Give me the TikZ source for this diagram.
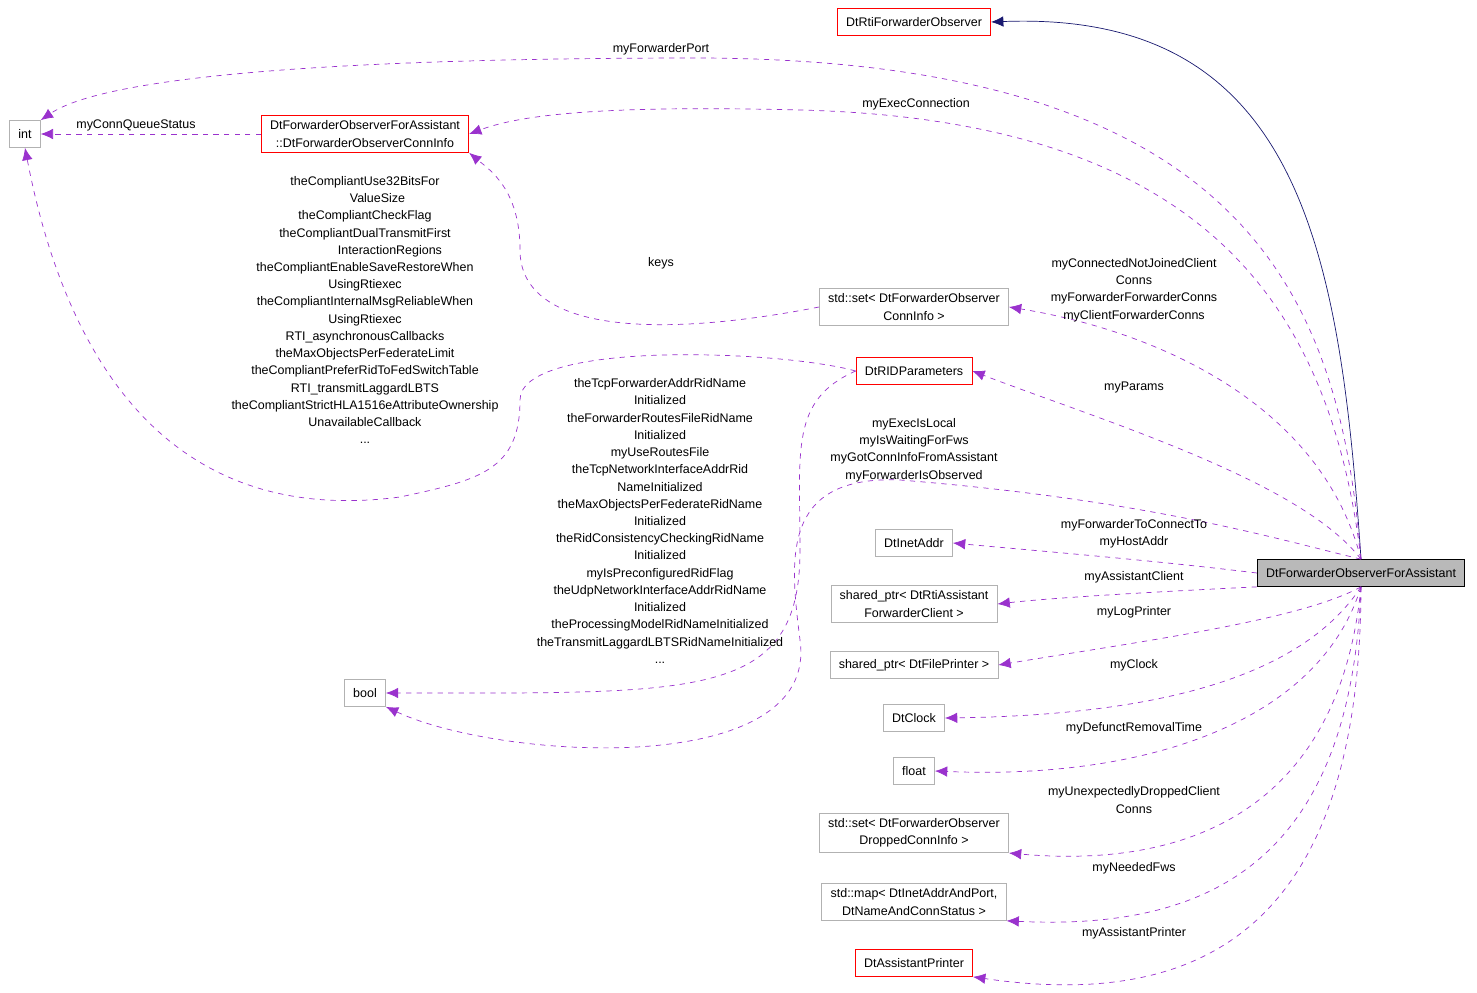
\documentclass[tikz,border=0pt]{standalone}
\usepackage{fontspec}
\setmainfont{Liberation Sans}
\usetikzlibrary{arrows.meta,positioning}
\definecolor{usecol}{RGB}{154,50,205}
\definecolor{inhcol}{RGB}{25,25,112}
\tikzset{
  cls/.style = {draw=gray!60, fill=white, align=center, inner xsep=5pt, inner ysep=3pt, minimum height=27*0.02cm},
  cls_red/.style = {cls, draw=red},
  cls_main/.style = {cls, draw=black, fill=gray!55},
  uses/.style = {draw=usecol, dashed, -{Latex[length=7pt,width=6pt]}},
  inherits/.style = {draw=inhcol, -{Latex[length=7pt,width=6pt]}},
  lbl/.style = {align=center, inner sep=0pt}
}
\begin{document}
\begin{tikzpicture}[x=0.02cm, y=-0.02cm,
            every node/.style={font=\fontsize{7.1}{9.8}\selectfont}
            ]
        \useasboundingbox (0,0) rectangle (1477,993);

        % Classes
        \node[cls_main] at (1361,573) (main) {DtForwarderObserverForAssistant};
        \node[cls_red] at (914,22) (rti) {DtRtiForwarderObserver};
        \node[cls] at (25,134) (int) {int};
        \node[cls_red] at (365,134) (conn_info) {DtForwarderObserverForAssistant\\::DtForwarderObserverConnInfo};
        \node[cls] at (914,307) (conn_set) {std::set< DtForwarderObserver\\ConnInfo >};
        \node[cls_red] at (914,371) (rid) {DtRIDParameters};
        \node[cls] at (914,543) (inet) {DtInetAddr};
        \node[cls] at (914,604) (client) {shared\_ptr< DtRtiAssistant\\ForwarderClient >};
        \node[cls] at (914,665) (printer) {shared\_ptr< DtFilePrinter >};
        \node[cls] at (914,718) (clock) {DtClock};
        \node[cls] at (914,771) (float) {float};
        \node[cls] at (914,833) (dropped_set) {std::set< DtForwarderObserver\\DroppedConnInfo >};
        \node[cls] at (914,902) (fws_map) {std::map< DtInetAddrAndPort,\\DtNameAndConnStatus >};
        \node[cls_red] at (914,963) (asst_printer) {DtAssistantPrinter};
        \node[cls] at (365,693) (bool) {bool};

        % Inheritance
        \draw[inherits] (main.north) .. controls (1340,250) and (1300,10) .. (rti.east);

        % Usage
        \draw[uses] (main.north) .. controls (1340,300) and (1250,60) .. (700,58)
            .. controls (300,58) and (100,80) .. (int.north east);
        \draw[uses] (main.north) .. controls (1330,300) and (1200,120) .. (800,110)
            .. controls (600,105) and (520,115) .. (conn_info.east);
        \draw[uses] (conn_info.west) -- (int.east);
        \draw[uses] (conn_set.west) .. controls (650,340) and (520,330) .. (520,250)
            .. controls (520,190) and (490,170) .. (conn_info.south east);
        \draw[uses] (rid.west) .. controls (780,350) and (520,340) .. (520,400)
            .. controls (520,470) and (480,480) .. (400,497)
            .. controls (150,530) and (60,330) .. (int.south);
        \draw[uses] (main.north) .. controls (1320,400) and (1150,330) .. (conn_set.east);
        \draw[uses] (main.north) .. controls (1300,480) and (1100,420) .. (rid.east);
        \draw[uses] (rid.west) .. controls (790,400) and (800,450) .. (800,550)
            .. controls (800,700) and (700,693) .. (bool.east);
        \draw[uses] (main.north) .. controls (1280,540) and (1150,500) .. (900,480)
            .. controls (780,475) and (790,560) .. (800,640)
            .. controls (820,780) and (500,760) .. (bool.south east);
        \draw[uses] (main.west) .. controls (1150,560) and (1050,552) .. (inet.east);
        \draw[uses] (main.south west) .. controls (1150,592) and (1050,598) .. (client.east);
        \draw[uses] (main.south) .. controls (1300,620) and (1150,640) .. (printer.east);
        \draw[uses] (main.south) .. controls (1300,680) and (1150,715) .. (clock.east);
        \draw[uses] (main.south) .. controls (1320,720) and (1150,780) .. (float.east);
        \draw[uses] (main.south) .. controls (1340,800) and (1200,870) .. (dropped_set.south east);
        \draw[uses] (main.south) .. controls (1350,870) and (1200,930) .. (fws_map.south east);
        \draw[uses] (main.south) .. controls (1360,930) and (1200,1010) .. (asst_printer.south east);

        % Labels
        \node[lbl] at (661,49) (l_port) {myForwarderPort};
        \node[lbl] at (916,104) (l_exec) {myExecConnection};
        \node[lbl] at (136,125) (l_queue) {myConnQueueStatus};
        \node[lbl] at (661,263) (l_keys) {keys};
        \node[lbl] at (365,310) (l_compliant) {theCompliantUse32BitsFor\\\hspace*{2em}ValueSize\\theCompliantCheckFlag\\theCompliantDualTransmitFirst\\\hspace*{4em}InteractionRegions\\theCompliantEnableSaveRestoreWhen\\UsingRtiexec\\theCompliantInternalMsgReliableWhen\\UsingRtiexec\\RTI\_asynchronousCallbacks\\theMaxObjectsPerFederateLimit\\theCompliantPreferRidToFedSwitchTable\\RTI\_transmitLaggardLBTS\\theCompliantStrictHLA1516eAttributeOwnership\\UnavailableCallback\\...};
        \node[lbl] at (1134,290) (l_connected) {myConnectedNotJoinedClient\\Conns\\myForwarderForwarderConns\\myClientForwarderConns};
        \node[lbl] at (1134,388) (l_params) {myParams};
        \node[lbl] at (660,521) (l_tcp) {theTcpForwarderAddrRidName\\Initialized\\theForwarderRoutesFileRidName\\Initialized\\myUseRoutesFile\\theTcpNetworkInterfaceAddrRid\\NameInitialized\\theMaxObjectsPerFederateRidName\\Initialized\\theRidConsistencyCheckingRidName\\Initialized\\myIsPreconfiguredRidFlag\\theUdpNetworkInterfaceAddrRidName\\Initialized\\theProcessingModelRidNameInitialized\\theTransmitLaggardLBTSRidNameInitialized\\...};
        \node[lbl] at (914,450) (l_local) {myExecIsLocal\\myIsWaitingForFws\\myGotConnInfoFromAssistant\\myForwarderIsObserved};
        \node[lbl] at (1134,534) (l_host) {myForwarderToConnectTo\\myHostAddr};
        \node[lbl] at (1134,577) (l_client) {myAssistantClient};
        \node[lbl] at (1134,612) (l_log) {myLogPrinter};
        \node[lbl] at (1134,665) (l_clock) {myClock};
        \node[lbl] at (1134,728) (l_defunct) {myDefunctRemovalTime};
        \node[lbl] at (1134,800) (l_dropped) {myUnexpectedlyDroppedClient\\Conns};
        \node[lbl] at (1134,868) (l_needed) {myNeededFws};
        \node[lbl] at (1134,933) (l_asst) {myAssistantPrinter};
\end{tikzpicture}
\end{document}
